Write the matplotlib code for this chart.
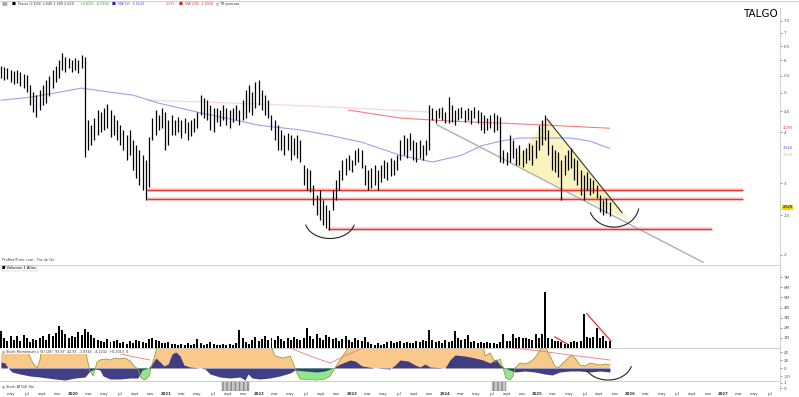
import numpy as np
import matplotlib.pyplot as plt
from matplotlib.patches import Polygon, Rectangle

# ---- bar timing (weekly-ish bars, fractional years) ----
t0 = 2019.225
dt = 0.03466

high = [5.81, 5.78, 5.74, 5.68, 5.65, 5.68, 5.62, 5.55, 5.52, 5.22,
        5.01, 4.93, 5.07, 5.22, 5.37, 5.49, 5.68, 5.81, 6.01, 6.25,
        6.11, 6.08, 6.01, 6.08, 6.01, 6.18, 6.11, 4.28, 4.16, 4.33,
        4.53, 4.48, 4.58, 4.69, 4.53, 4.41, 4.28, 4.16, 4.05, 3.93,
        4.05, 3.83, 3.72, 3.61, 3.51, 3.42, 3.89, 4.33, 4.53, 4.41,
        4.58, 4.48, 4.28, 4.41, 4.28, 4.36, 4.28, 4.33, 4.23, 4.28,
        4.33, 4.48, 4.93, 4.85, 4.79, 4.66, 4.58, 4.58, 4.53, 4.66,
        4.58, 4.53, 4.58, 4.66, 4.53, 4.79, 5.07, 5.22, 5.01, 5.31,
        5.37, 5.07, 4.93, 4.79, 4.41, 4.28, 4.16, 4.05, 3.93, 3.98,
        3.93, 3.87, 3.93, 3.83, 3.32, 3.27, 3.23, 2.97, 2.80, 2.88,
        2.73, 2.65, 2.58, 2.88, 3.05, 3.23, 3.42, 3.46, 3.51, 3.42,
        3.61, 3.65, 3.61, 3.32, 3.23, 3.27, 3.32, 3.23, 3.32, 3.42,
        3.38, 3.46, 3.42, 3.51, 3.83, 3.93, 3.87, 3.98, 3.83, 3.78,
        3.83, 3.72, 3.83, 4.66, 4.58, 4.53, 4.58, 4.61, 4.48, 4.87,
        4.66, 4.53, 4.58, 4.61, 4.53, 4.58, 4.53, 4.61, 4.53, 4.48,
        4.41, 4.33, 4.41, 4.46, 4.41, 4.36, 3.61, 3.57, 3.93, 3.83,
        3.65, 3.72, 3.61, 3.65, 3.76, 3.72, 3.83, 4.16, 4.28, 4.41,
        4.05, 3.72, 3.61, 3.57, 3.42, 3.51, 3.61, 3.65, 3.46, 3.42,
        3.23, 3.14, 3.19, 3.09, 3.05, 2.97, 2.80, 2.73, 2.76, 2.70]

low = [5.43, 5.37, 5.40, 5.31, 5.25, 5.28, 5.19, 5.13, 5.01, 4.66,
       4.48, 4.36, 4.53, 4.66, 4.71, 4.90, 5.13, 5.31, 5.43, 5.68,
       5.62, 5.74, 5.62, 5.68, 5.58, 5.74, 3.47, 3.61, 3.72, 3.83,
       3.93, 4.00, 4.05, 4.09, 3.89, 3.93, 3.83, 3.72, 3.61, 3.42,
       3.51, 3.23, 3.09, 2.97, 2.88, 2.73, 2.93, 3.83, 3.93, 4.05,
       4.09, 3.61, 3.72, 3.93, 3.93, 4.00, 3.87, 3.98, 3.83, 3.91,
       4.00, 4.09, 4.41, 4.33, 4.28, 4.05, 4.00, 4.23, 4.14, 4.28,
       4.16, 4.09, 4.23, 4.28, 4.16, 4.28, 4.33, 4.48, 4.41, 4.58,
       4.66, 4.53, 4.41, 4.33, 4.05, 3.83, 3.61, 3.61, 3.51, 3.61,
       3.42, 3.51, 3.46, 3.38, 2.97, 2.88, 2.85, 2.65, 2.50, 2.43,
       2.37, 2.33, 2.30, 2.58, 2.73, 2.88, 3.05, 3.14, 3.23, 3.19,
       3.32, 3.38, 3.27, 2.97, 2.88, 2.92, 2.97, 2.88, 3.02, 3.09,
       3.05, 3.12, 3.14, 3.23, 3.42, 3.51, 3.46, 3.61, 3.42, 3.38,
       3.46, 3.42, 3.51, 3.61, 4.28, 4.21, 4.33, 4.28, 4.21, 4.21,
       4.23, 4.16, 4.28, 4.33, 4.23, 4.28, 4.18, 4.33, 4.21, 4.05,
       3.98, 4.05, 4.09, 4.00, 4.05, 3.38, 3.36, 3.32, 3.38, 3.46,
       3.32, 3.32, 3.29, 3.36, 3.42, 3.32, 3.46, 3.61, 3.72, 3.83,
       3.51, 3.23, 3.19, 3.10, 2.73, 3.14, 3.23, 3.27, 3.05, 2.97,
       2.80, 2.73, 2.88, 2.80, 2.84, 2.76, 2.55, 2.50, 2.54, 2.49]

# volume, in 100k shares
volume = [17, 10, 7, 12, 8, 12, 7, 13, 10, 6, 9, 8, 10, 12, 8, 14,
          12, 15, 22, 18, 14, 10, 12, 11, 16, 13,
          19, 16, 13, 10, 8, 7, 6, 9, 6, 7,
          8, 5, 6, 4, 7, 5, 8, 7, 6, 5, 9, 10, 8, 7, 5,
          5, 6, 4, 4, 3, 4, 3, 5, 3, 4, 9, 5, 3, 4, 6, 4, 3, 3, 4, 3,
          4, 3, 5, 18, 10, 6, 4,
          8, 11, 7, 9, 12, 8,
          10, 8, 12, 9, 7, 10, 8, 11, 9, 8, 10,
          20,
          12, 9, 14, 10, 8, 13, 11, 9, 10,
          7, 9, 12, 8, 6, 10, 8, 7, 11, 6,
          4, 3, 5, 3, 4,
          6, 7, 5, 6, 7, 5, 6, 5, 5,
          7, 6, 8, 7, 18, 8, 6, 7, 5, 8, 6, 7, 17, 10, 8, 9, 13,
          6, 7, 5, 6, 5, 6, 5, 5, 4, 6, 14, 7, 7, 14,
          10, 11, 10, 10, 9, 8, 14, 10, 14, 55,
          10, 9, 7, 7, 6, 4, 4, 6, 7, 6, 7, 34, 11, 10, 11, 20, 10, 12, 7, 7]

# moving averages (bar index, price)
ma_blue_i = [0, 9, 18, 25, 34, 41, 49, 62, 71, 80, 93, 102, 112, 124, 134, 143, 149, 155, 161, 169, 177, 183, 189]
ma_blue_p = [4.79, 4.87, 5.01, 5.13, 5.01, 4.93, 4.71, 4.46, 4.31, 4.16, 4.05, 3.93, 3.78, 3.51, 3.38, 3.51, 3.70,
             3.80, 3.87, 3.87, 3.87, 3.80, 3.65]
ma_pale_i = [46, 80, 110, 133]
ma_pale_p = [4.79, 4.69, 4.58, 4.48]
ma_red_i = [108, 124, 139, 155, 170, 189]
ma_red_p = [4.53, 4.33, 4.26, 4.21, 4.16, 4.09]

# indicator panel (bar index, value)
smi_i = [0, 7.5, 8.4, 9.9, 11.2, 12.1, 12.7, 26.1, 26.7, 27.6, 28.6, 29.2, 29.8, 30.7, 32.3, 33.9, 35.4, 37,
         38.5, 40.1, 41.3, 42.5, 43.5, 44.7, 46, 46.6, 47.5, 48.4, 49.4, 83.5, 85.1, 87.6, 89.8, 90.7, 91.9,
         92.9, 98.1, 100.6, 102.2, 103.7, 105.3, 106.8, 108.4, 149.7, 150.3, 151.9, 153.4, 155, 155.9, 156.8,
         158.1, 159, 159.6, 161.2, 162.7, 164.3, 165.8, 167.4, 168.9, 170.5, 172, 173, 174.2, 175.5, 177,
         178.3, 179.8, 181.4, 182.9, 184.5, 186, 187.6, 189.1]
smi_v = [25, 25, 15, 5, 0, 8, 25, 25, 10, -3, -8, -2, 6, 8, 9, 8, 10, 9,
         10, 7, 2, -1, -10, -12, -8, 0, 10, 20, 25, 25, 12, 10, 12, 5, -5,
         -11, -12, -11, -8, 0, 8, 15, 25, 25, 12, 15, 6, 9, 0, -10,
         -12, -8, 0, 5, 4, 6, 10, 18, 22, 12, 2, 0, 4, 8, 13,
         10, 3, 2, 5, 4, 3, 4, 3]
hist_i = [0, 1.2, 2.2, 3.4, 5.9, 9, 12.1, 16.8, 19.9, 23, 26.1, 27.6, 29.2, 30.7, 31.7, 33.9, 37, 40.1, 42.5,
          43.8, 45.7, 46.9, 48.1, 49.4, 50.6, 51.9, 53.1, 54.3, 55.6, 56.8, 58.7, 61.8, 63.4, 64.9, 68, 71.1,
          74.2, 75.8, 76.7, 78, 80.4, 83.5, 86.6, 89.8, 91.3, 94.4, 98.1, 100.6, 103.1, 105.3, 108.4, 110,
          112.1, 116.1, 120.8, 122.4, 123.9, 126.4, 128.6, 130.1, 131.7, 133.2, 137.9, 139.4, 141, 144.1,
          147.2, 149.7, 151.9, 153.7, 155, 156.5, 159.6, 162.7, 165.8, 168.9, 171.1, 173.6, 176.7, 179.8,
          182.9, 186, 189.1]
hist_v = [6, 5, 0, -4, -6, -8, -9, -11, -12, -10, -9, -3, -1, -2, -8, -11, -11, -10, -10,
          -2, 0, 4, 10, 6, 2, 4, 14, 16, 12, 3, 1, 0, -1, -6, -9, -10,
          -9, -12, -6, -10, -11, -10, -8, -5, -2, -3, -4, -3, 0, 4, 8, 7,
          2, 0, -1, 3, 8, 7, 3, 1, 4, 1, 0, 8, 13, 12,
          10, 8, 5, 9, 3, 0, -4, -3, -4, -6, -7, -4, -3, -3,
          -4, -3, -4]
sig_segments = [([37, 41.6, 46.3], [14, 11, 8]),
                ([89.8, 96, 102.2, 106.8, 112.4], [20, 12, 5, 12, 20]),
                ([159, 167.4, 176.7, 189.1], [20, 17, 13, 8])]

# volume trend strokes (bar index, volume)
vol_lines = [([181.9, 189.4], [34, 7]), ([172, 175.8], [11, 4])]

# drawn levels and trendlines (year, price)
supports = [(2020.796, 2027.212, 2.88), (2020.796, 2027.212, 2.74), (2022.745, 2026.878, 2.32)]
trend_gray = ([2023.918, 2026.781], [4.17, 1.92])
trend_black = ([2025.102, 2025.909], [4.31, 2.54])
wedge = [(2024.736, 3.34), (2025.102, 4.31), (2025.995, 2.43)]
# smile arcs: centre year, centre price, half width (yr), depth (log)
arcs_price = [(2022.766, 2.43, 0.269, 0.1017, 195, 345), (2025.823, 2.65, 0.269, 0.124, 200, 350)]
arc_ind = (2025.759, 6, 0.258, 18, 210, 345)
# grey blocks of the bottom panel
blocks = [(2021.604, 2021.894), (2024.510, 2024.661)]

months = ['', 'mar', 'may', 'jul', 'sept', 'nov']


def tt(i):
    return t0 + np.asarray(i, dtype=float) * dt


W, H = 799, 397
fig = plt.figure(figsize=(W / 100, H / 100), dpi=100)
fig.patch.set_facecolor('white')
right = 780 / W


def box(top, bot):
    return [0, 1 - bot / H, right, (bot - top) / H]


ax_p = fig.add_axes(box(8, 265))
ax_v = fig.add_axes(box(265, 348))
ax_i = fig.add_axes(box(348, 381))
ax_b = fig.add_axes(box(381, 391))

xmin, xmax = 2019.214, 2027.61
sep = '#c8c8c8'
for ax in (ax_p, ax_v, ax_i, ax_b):
    ax.set_xlim(xmin, xmax)
    ax.set_facecolor('white')
    for s in ('left', 'bottom'):
        ax.spines[s].set_visible(False)
    for s in ('top', 'right'):
        ax.spines[s].set_color(sep)
        ax.spines[s].set_linewidth(0.6)
    ax.set_xticks([])
    ax.yaxis.tick_right()
    ax.tick_params(axis='y', labelsize=3, colors='#555555', length=1.5, width=0.4, pad=1)
ax_p.spines['top'].set_visible(False)

t = tt(np.arange(len(high)))

# ---- price panel ----
ax_p.set_yscale('log')
ax_p.set_ylim(1.89, 8.06)
ax_p.minorticks_off()
pt = [2, 2.5, 3, 4, 4.5, 5, 5.5, 6, 6.5, 7, 7.5]
ax_p.set_yticks(pt)
ax_p.set_yticklabels([f'{v:g}' for v in pt])

ax_p.add_patch(Polygon(wedge, closed=True, facecolor='#fbf3bd', edgecolor='none', zorder=1))
ax_p.plot(tt(ma_pale_i), ma_pale_p, color='#f2c4c4', lw=1.0, alpha=0.6, zorder=2)
ax_p.plot(tt(ma_blue_i), ma_blue_p, color='#7878e0', lw=0.8, alpha=0.7, zorder=2)
ax_p.plot(tt(ma_red_i), ma_red_p, color='#ee6060', lw=0.8, alpha=0.8, zorder=2)
for a, b, lvl in supports:
    ax_p.plot([a, b], [lvl, lvl], color='#f7b0b0', lw=2.6, alpha=0.6, zorder=2, solid_capstyle='butt')
    ax_p.plot([a, b], [lvl, lvl], color='#e8352e', lw=1.0, zorder=3, solid_capstyle='butt')
ax_p.plot(*trend_gray, color='#b4b4b4', lw=1.1, zorder=2)
ax_p.plot(*trend_black, color='#333333', lw=0.8, zorder=4)

ax_p.vlines(t, low, high, color='black', lw=0.9, zorder=5)

for tc, pc, rx, ry, a0, a1 in arcs_price:
    th = np.radians(np.linspace(a0, a1, 60))
    ax_p.plot(tc + rx * np.cos(th), pc * np.exp(ry * np.sin(th)), color='#222222', lw=0.8, zorder=6)

ax_p.text(0.997, 0.975, 'TALGO', transform=ax_p.transAxes, ha='right', va='center', fontsize=7.5,
          color='black')
ax_p.text(0.003, 0.012, 'ProRealTime.com - Tra de Ge', transform=ax_p.transAxes, fontsize=2.6,
          color='#444444', va='bottom')

# value boxes on the price scale
for val, fc, ec in [(4.093, '#ffffff', '#e04040'), (3.652, '#ffffff', '#5050d0'),
                    (3.51, '#ffffff', '#e9a0a0'), (2.620, '#f5d000', '#f5d000')]:
    ax_p.text(1.003, val, f'{val:.3f}', transform=ax_p.get_yaxis_transform(), fontsize=2.6,
              color=ec if fc == '#ffffff' else 'black', va='center', ha='left',
              bbox=dict(boxstyle='square,pad=0.15', fc=fc, ec='none'), clip_on=False, zorder=10)

# ---- volume panel ----
ax_v.bar(t, volume, width=dt * 0.62, color='black', zorder=3)
for xs, ys in vol_lines:
    ax_v.plot(tt(xs), ys, color='#e83030', lw=0.9, zorder=4)
ax_v.set_ylim(0, 82)
ax_v.set_yticks([10, 20, 30, 40, 50, 60, 70])
ax_v.set_yticklabels(['1M', '2M', '3M', '4M', '5M', '6M', '7M'])
ax_v.text(0.003, 0.985, '\u25a0 Volumen 1 A\u00f1os', transform=ax_v.transAxes, fontsize=2.6, va='top',
          bbox=dict(boxstyle='square,pad=0.2', fc='white', ec='#bbbbbb', lw=0.3))

# ---- indicator panel ----
si, sv = tt(smi_i), np.array(smi_v, dtype=float)
hi, hv = tt(hist_i), np.array(hist_v, dtype=float)
ax_i.set_ylim(-13, 20)
ax_i.fill_between(si, sv, 0, where=sv >= 0, interpolate=True, color='#f9c98c', lw=0, zorder=1)
ax_i.fill_between(si, sv, 0, where=sv <= 0, interpolate=True, color='#8ee88e', lw=0, zorder=1)
ax_i.fill_between(hi, hv, 0, color='#35347f', lw=0, alpha=0.95, zorder=2)
ax_i.plot(si, sv, color='#9c9c38', lw=0.6, zorder=3)
for xs, ys in sig_segments:
    ax_i.plot(tt(xs), ys, color='#f07a7a', lw=0.6, zorder=3)
tc, vc, rx, ry, a0, a1 = arc_ind
th = np.radians(np.linspace(a0, a1, 60))
ax_i.plot(tc + rx * np.cos(th), vc + ry * np.sin(th), color='#222222', lw=0.8, zorder=6, clip_on=False)
ax_i.set_yticks([16, 8, 0, -8])
ax_i.set_yticklabels(['40', '20', '0', '-20'])
ax_i.text(0.002, 0.97, '\u25ce Stoch Momentum x (8) (28)  93.97  42.93  -1.8345  -4.2232  +0.2013  0',
          transform=ax_i.transAxes, fontsize=2.4, va='top', color='#333333',
          bbox=dict(boxstyle='square,pad=0.25', fc='white', ec='none'), zorder=8)

# ---- bottom panel ----
ax_b.set_ylim(0, 1)
ax_b.set_yticks([0.3, 0.8])
ax_b.set_yticklabels(['0', '1'])
for a, b in blocks:
    ax_b.add_patch(Rectangle((a, 0), b - a, 1, facecolor='#c8c8c8', edgecolor='#888888',
                             hatch='||||', lw=0.3))
ax_b.text(0.002, 0.5, '\u25ce Stoch AT(14) Sto', transform=ax_b.transAxes, fontsize=2.4, va='center',
          color='#333333')

# x labels (every two months)
ticks, labels = [], []
for yr in range(2019, 2028):
    for k, m in enumerate(months):
        x = yr + 2 * k / 12
        if xmin < x < xmax - 0.05:
            ticks.append(x)
            labels.append(str(yr) if k == 0 else m)
for x, lab in zip(ticks, labels):
    fig.text((x - xmin) / (xmax - xmin) * right, 1 - 394 / H, lab, ha='center', va='center',
             fontsize=2.8, color='#333333', fontweight='bold' if lab.isdigit() else 'normal')

# ---- legend strip on top ----
fig.add_artist(plt.Line2D([0, 1], [1 - 0.6 / H, 1 - 0.6 / H], color=sep, lw=0.6))
ly = 1 - 4 / H
fig.text(0.002, ly, '\u25a3\u25a3', fontsize=2.6, va='center', color='#888888')
fig.text(0.014, ly, '\u25a0', fontsize=3, color='black', va='center')
fig.text(0.022, ly, 'Precio (2.620) 2.640 2.500 2.620', fontsize=2.4, color='#333333', va='center')
fig.text(0.100, ly, '+0.62%  -0.0160', fontsize=2.4, color='#2a9a2a', va='center')
fig.text(0.140, ly, '\u25a0', fontsize=3, color='#2020d0', va='center')
fig.text(0.148, ly, 'MA(52)  3.6520', fontsize=2.4, color='#5050c0', va='center')
fig.text(0.208, ly, '4.093', fontsize=2.4, color='#e06060', va='center')
fig.text(0.224, ly, '\u25a0', fontsize=3, color='#d02020', va='center')
fig.text(0.232, ly, 'MA(200)  4.0930', fontsize=2.4, color='#d04040', va='center')
fig.text(0.270, ly, '\u25cb TR prorrata', fontsize=2.4, color='#333333', va='center')

fig.savefig('out.png', dpi=100)
